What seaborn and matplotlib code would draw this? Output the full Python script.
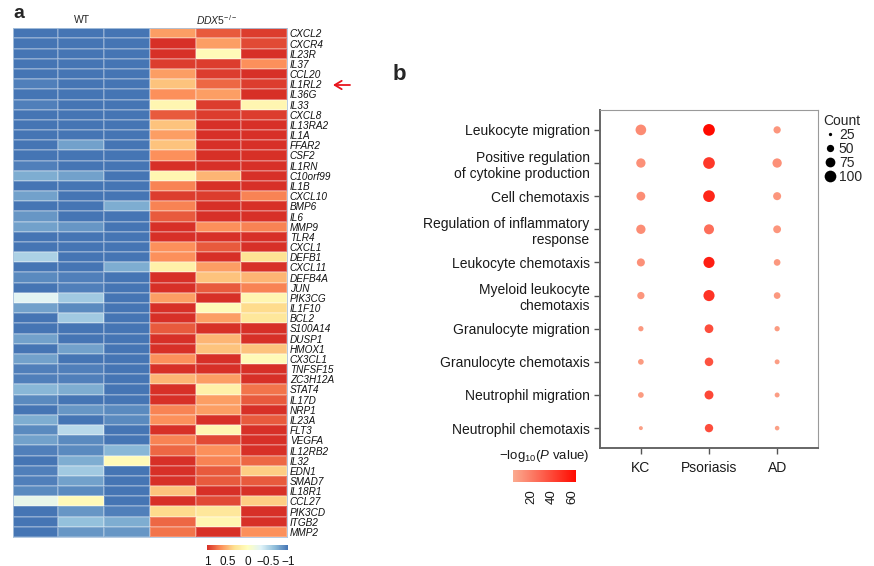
import numpy as np
import pandas as pd
import seaborn as sns
import matplotlib
matplotlib.use("Agg")
import matplotlib.pyplot as plt
from matplotlib.colors import LinearSegmentedColormap, Normalize
from matplotlib.lines import Line2D
import matplotlib.cm as cm

# ---------------- data: panel a ----------------
genes = ["CXCL2", "CXCR4", "IL23R", "IL37", "CCL20", "IL1RL2", "IL36G", "IL33", "CXCL8",
         "IL13RA2", "IL1A", "FFAR2", "CSF2", "IL1RN", "C10orf99", "IL1B", "CXCL10", "BMP6",
         "IL6", "MMP9", "TLR4", "CXCL1", "DEFB1", "CXCL11", "DEFB4A", "JUN", "PIK3CG",
         "IL1F10", "BCL2", "S100A14", "DUSP1", "HMOX1", "CX3CL1", "TNFSF15", "ZC3H12A",
         "STAT4", "IL17D", "NRP1", "IL23A", "FLT3", "VEGFA", "IL12RB2", "IL32", "EDN1",
         "SMAD7", "IL18R1", "CCL27", "PIK3CD", "ITGB2", "MMP2"]
wt_rep1 = [-1, -1, -1, -1, -1, -0.95, -1, -0.95, -1, -1, -1, -1, -1, -0.95, -0.75, -1, -0.8,
           -1, -0.85, -0.8, -1, -1, -0.55, -1, -0.9, -1, -0.3, -0.8, -1, -1, -0.8, -1, -0.8,
           -0.95, -0.95, -0.7, -0.9, -1, -0.75, -0.9, -0.8, -0.95, -1, -0.95, -0.95, -0.9,
           -0.25, -1, -1, -1]
wt_rep2 = [-1, -1, -1, -1, -1, -1, -1, -1, -1, -1, -1, -0.8, -1, -1, -0.8, -1, -1, -1, -1,
           -0.85, -1, -1, -1, -1, -0.95, -0.95, -0.6, -0.9, -0.6, -1, -1, -0.8, -1, -0.95,
           -0.95, -0.75, -1, -0.85, -1, -0.5, -0.9, -0.9, -0.75, -0.6, -0.8, -0.9, 0.05,
           -0.85, -0.65, -0.85]
wt_rep3 = [-1, -1, -1, -1, -1, -1, -1, -1, -1, -1, -1, -1, -1, -1, -1, -1, -1, -0.75, -1,
           -1, -1, -1, -1, -0.75, -1, -1, -1, -1, -1, -1, -1, -1, -1, -1, -1, -1, -1, -0.9,
           -0.9, -1, -1, -0.7, 0.05, -1, -1, -1, -1, -0.95, -0.75, -0.85]
ko_rep1 = [0.6, 1, 1, 0.95, 0.6, 0.45, 0.65, 0.1, 0.85, 0.45, 0.6, 0.45, 0.65, 1, 0.1, 0.7,
           0.95, 0.7, 0.85, 1, 1, 0.65, 0.65, 0.15, 1, 1, 0.6, 1, 1, 0.85, 1, 1, 0.65, 1,
           0.5, 1, 1, 0.7, 0.65, 1, 0.7, 0.8, 1, 1, 1, 0.45, 1, 0.35, 0.8, 0.75]
ko_rep2 = [0.85, 0.6, 0.05, 0.95, 0.95, 0.8, 0.6, 0.95, 0.95, 1, 1, 1, 1, 1, 0.5, 1, 0.95,
           1, 1, 0.65, 1, 0.85, 1, 0.6, 0.45, 0.85, 1, 0.05, 0.6, 1, 0.5, 0.45, 1, 1, 0.6,
           0.15, 0.6, 0.6, 1, 0.1, 0.9, 0.65, 0.7, 0.85, 0.85, 1, 0.9, 0.25, 0.1, 1]
ko_rep3 = [0.95, 0.9, 1, 0.65, 1, 0.95, 1, 0.1, 0.95, 1, 1, 1, 1, 1, 1, 1, 0.7, 1, 1, 0.7,
           1, 1, 0.3, 1, 0.5, 0.7, 0.1, 0.35, 0.25, 1, 1, 0.45, 0.05, 1, 1, 0.75, 0.85, 1,
           0.85, 1, 1, 1, 0.8, 0.4, 0.85, 1, 0.4, 1, 1, 0.65]
heat_ticks = [1, 0.5, 0, -0.5, -1]
heat_ticklabels = ["1", "0.5", "0", "\u22120.5", "\u22121"]

# ---------------- data: panel b ----------------
terms = ["Leukocyte migration", "Positive regulation\nof cytokine production",
         "Cell chemotaxis", "Regulation of inflammatory\nresponse", "Leukocyte chemotaxis",
         "Myeloid leukocyte\nchemotaxis", "Granulocyte migration", "Granulocyte chemotaxis",
         "Neutrophil migration", "Neutrophil chemotaxis"]
groups = ["KC", "Psoriasis", "AD"]
count_kc = [86, 70, 65, 70, 57, 50, 35, 38, 38, 28]
count_pso = [108, 105, 100, 78, 92, 92, 64, 62, 66, 60]
count_ad = [50, 70, 57, 55, 45, 45, 35, 33, 33, 31]
logp_kc = [14, 12, 13, 13, 12, 10, 9, 8, 8, 6]
logp_pso = [64, 46, 53, 25, 56, 48, 38, 36, 40, 38]
logp_ad = [10, 12, 10, 10, 9, 9, 8, 7, 7, 6]
legend_counts = [25, 50, 75, 100]
logp_ticks = [20, 40, 60]

# ---------------- style ----------------
sns.set_style("white")
plt.rcParams["font.family"] = ["Liberation Sans", "DejaVu Sans"]
plt.rcParams["mathtext.fontset"] = "custom"
plt.rcParams["mathtext.rm"] = "Liberation Sans"
plt.rcParams["mathtext.it"] = "Liberation Sans:italic"

W, H = 874, 566
fig = plt.figure(figsize=(W / 100, H / 100), dpi=100)


def rect(x0, y0, x1, y1):
    return [x0 / W, 1 - y1 / H, (x1 - x0) / W, (y1 - y0) / H]


# ---------------- panel a: heatmap ----------------
heat_df = pd.DataFrame({"WT1": wt_rep1, "WT2": wt_rep2, "WT3": wt_rep3,
                        "KO1": ko_rep1, "KO2": ko_rep2, "KO3": ko_rep3}, index=genes)
heat_cmap = LinearSegmentedColormap.from_list(
    "pheat", ["#4575b4", "#91bfdb", "#e0f3f8", "#ffffbf", "#fee090", "#fc8d59", "#d73027"])

ax_h = fig.add_axes(rect(12.7, 28.3, 287, 537))
cax_h = fig.add_axes(rect(207, 545, 288, 550))
sns.heatmap(heat_df, cmap=heat_cmap, vmin=-1, vmax=1, ax=ax_h, cbar_ax=cax_h,
            cbar_kws={"orientation": "horizontal", "ticks": heat_ticks},
            linewidths=0.35, linecolor=(1, 1, 1, 0.22))
ax_h.set_xticks([])
ax_h.set_xlabel("")
ax_h.yaxis.tick_right()
ax_h.set_yticks(np.arange(len(genes)) + 0.5)
ax_h.set_yticklabels(genes, rotation=0, fontsize=7.2, style="italic", color="#111111")
ax_h.tick_params(axis="y", length=0, pad=2)
for s in ax_h.spines.values():
    s.set_visible(True)
    s.set_color("#a9c2dc")
    s.set_linewidth(0.6)

cb_h = ax_h.collections[0].colorbar
cb_h.outline.set_visible(False)
cax_h.invert_xaxis()
cax_h.set_xticks(heat_ticks)
cax_h.set_xticklabels(heat_ticklabels, fontsize=8.5, color="#111111")
cax_h.tick_params(axis="x", length=0, pad=4)

fig.text(82 / W, 1 - 20 / H, "WT", fontsize=7.5, ha="center", va="center")
fig.text(217 / W, 1 - 20 / H, r"$\it{DDX5}^{-/-}$", fontsize=7.5, ha="center", va="center")
fig.text(13 / W, 1 - 13 / H, "a", fontsize=14, fontweight="bold", ha="left", va="center")
fig.add_artist(plt.Annotation("", xy=(333 / W, 1 - 85 / H), xytext=(350 / W, 1 - 85 / H),
                              xycoords="figure fraction", textcoords="figure fraction",
                              arrowprops=dict(arrowstyle="->,head_length=0.5,head_width=0.3",
                                              color="#e8141c", lw=1.3, shrinkA=0, shrinkB=0,
                                              mutation_scale=10)))

# ---------------- panel b: dot plot ----------------
dot_df = pd.DataFrame({
    "term": [t for t in terms for _ in groups],
    "group": [g for _ in terms for g in groups],
    "count": [c for trio in zip(count_kc, count_pso, count_ad) for c in trio],
    "logp": [p for trio in zip(logp_kc, logp_pso, logp_ad) for p in trio],
})
dot_cmap = LinearSegmentedColormap.from_list("dots", ["#fbab90", "#ff0a00"])
p_norm = Normalize(vmin=1.5, vmax=64)
size_range = (5.6, 71)
size_norm = (25, 100)

ax_d = fig.add_axes(rect(600, 110, 818, 448))
sns.scatterplot(data=dot_df, x="group", y="term", hue="logp", palette=dot_cmap,
                hue_norm=p_norm, size="count", sizes=size_range, size_norm=size_norm,
                linewidth=0, legend=False, ax=ax_d)
ax_d.set_xlim(-0.6, 2.6)
ax_d.set_ylim(len(terms) - 1 + 0.6, -0.6)
ax_d.set_xlabel("")
ax_d.set_ylabel("")
ax_d.tick_params(axis="both", which="major", length=4.5, width=1.0, color="#555555",
                 labelsize=10, labelcolor="#1a1a1a", direction="out")
ax_d.tick_params(axis="y", pad=3)
ax_d.tick_params(axis="x", pad=5)
ax_d.xaxis.set_ticks_position("bottom")
ax_d.yaxis.set_ticks_position("left")
for lab in ax_d.get_yticklabels():
    lab.set_linespacing(1.2)
for side in ["left", "bottom"]:
    ax_d.spines[side].set_color("#666666")
    ax_d.spines[side].set_linewidth(1.4)
for side in ["top", "right"]:
    ax_d.spines[side].set_color("#9a9a9a")
    ax_d.spines[side].set_linewidth(0.8)

# size legend
handles = []
for c in legend_counts:
    s = size_range[0] + (c - size_norm[0]) * (size_range[1] - size_range[0]) / (size_norm[1] - size_norm[0])
    handles.append(Line2D([], [], marker="o", linestyle="", markersize=np.sqrt(s),
                          markerfacecolor="black", markeredgewidth=0))
leg = ax_d.legend(handles, [str(c) for c in legend_counts], title="Count",
                  loc="upper left", bbox_to_anchor=(816 / W, 1 - 107 / H),
                  bbox_transform=fig.transFigure, frameon=False, fontsize=10,
                  title_fontsize=10, handletextpad=0.15, labelspacing=0.0,
                  borderpad=0, handlelength=1.0, alignment="left")

# color bar for -log10 P
cax_d = fig.add_axes(rect(513, 470, 576, 482))
sm = cm.ScalarMappable(norm=p_norm, cmap=dot_cmap)
cb = fig.colorbar(sm, cax=cax_d, orientation="horizontal", ticks=logp_ticks)
cb.outline.set_visible(False)
cax_d.tick_params(axis="x", direction="in", color="white", length=2.5, width=0.8,
                  top=True, labelsize=9.5, labelcolor="#1a1a1a", pad=5,
                  labelrotation=90)
fig.text(544 / W, 1 - 456 / H, "\u2212log$_{10}$($\\it{P}$ value)", fontsize=9.5,
         ha="center", va="center", color="#1a1a1a")
fig.text(393 / W, 1 - 74 / H, "b", fontsize=16, fontweight="bold", ha="left", va="center")

fig.savefig("out.png", dpi=100)
